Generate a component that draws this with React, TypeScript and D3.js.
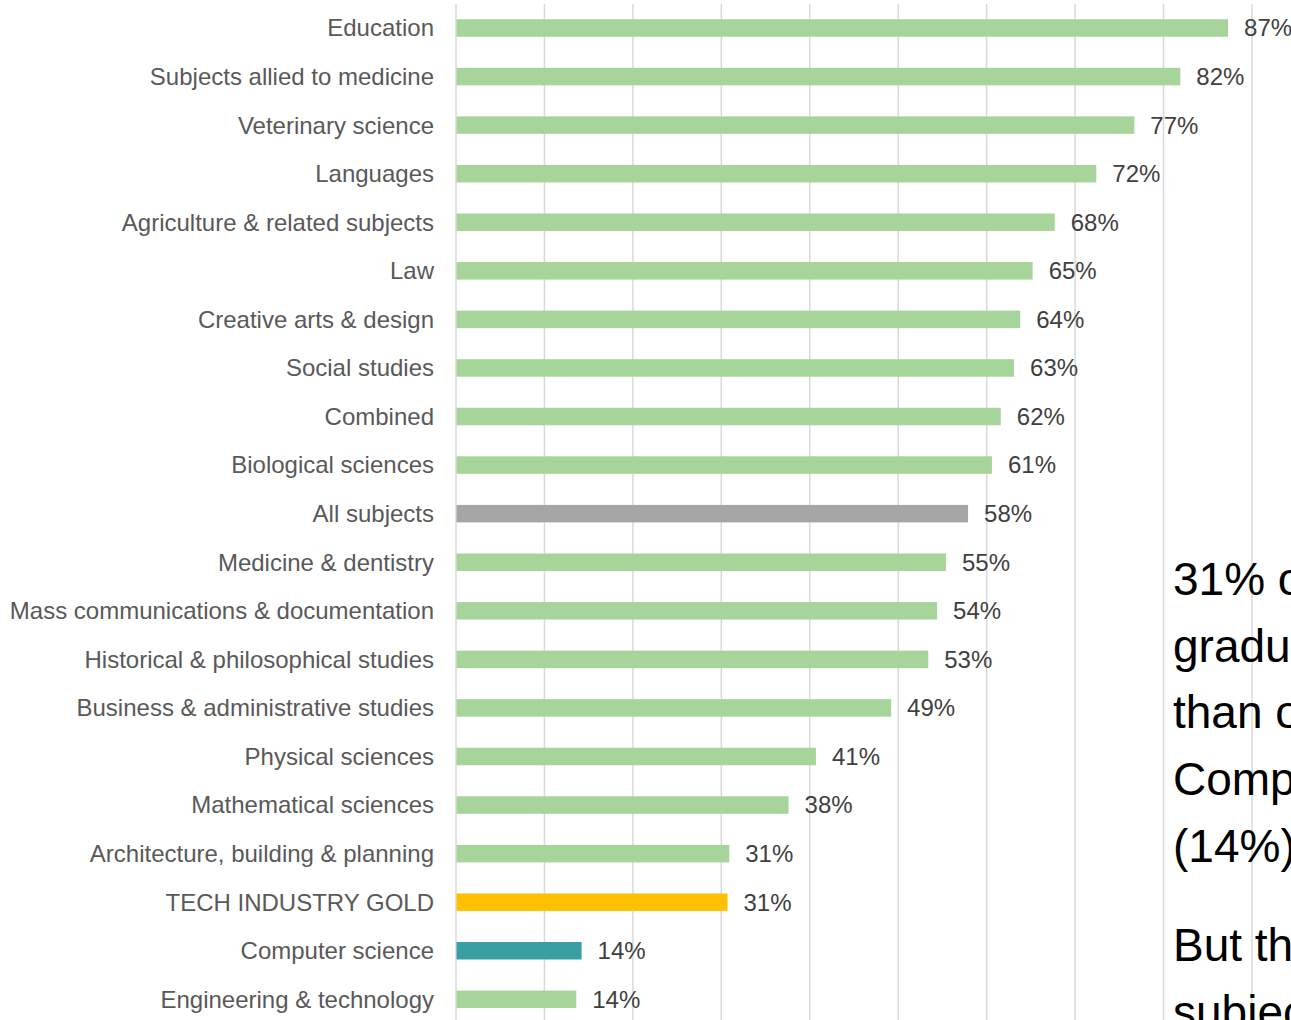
import React, { useEffect, useRef } from 'react';
import * as d3 from 'd3';

// share of graduates who are female, by subject (%)
const subjects = [
  'Education',
  'Subjects allied to medicine',
  'Veterinary science',
  'Languages',
  'Agriculture & related subjects',
  'Law',
  'Creative arts & design',
  'Social studies',
  'Combined',
  'Biological sciences',
  'All subjects',
  'Medicine & dentistry',
  'Mass communications & documentation',
  'Historical & philosophical studies',
  'Business & administrative studies',
  'Physical sciences',
  'Mathematical sciences',
  'Architecture, building & planning',
  'TECH INDUSTRY GOLD',
  'Computer science',
  'Engineering & technology',
];

const femaleShare = [
  87.3, 81.9, 76.7, 72.4, 67.7, 65.2, 63.8, 63.1, 61.6, 60.6, 57.9, 55.4, 54.4,
  53.4, 49.2, 40.7, 37.6, 30.9, 30.7, 14.2, 13.6,
];

const gridTicks = [0, 10, 20, 30, 40, 50, 60, 70, 80, 90, 100];

const noteLines = [
  '31% of TECH INDUSTRY GOLD',
  'graduates are women',
  'than on',
  'Computer science',
  '(14%)',
];
const noteLines2 = ['But this', 'subjects'];

interface Row {
  name: string;
  value: number;
}

const W = 1291;
const H = 1020;

const App = () => {
  const ref = useRef<SVGSVGElement>(null);

  useEffect(() => {
    const svg = d3.select(ref.current);
    svg.selectAll('*').remove();

    const data: Row[] = subjects.map((name, i) => ({ name, value: femaleShare[i] }));

    const x = d3.scaleLinear().domain([0, 100]).range([456, 1340.4]);
    const y = d3
      .scaleBand<string>()
      .domain(subjects)
      .range([3.7, 1023.6])
      .paddingInner(0.64)
      .paddingOuter(0.32);

    const font = '"Liberation Sans", Arial, sans-serif';

    // vertical gridlines
    svg
      .append('g')
      .selectAll('line')
      .data(gridTicks)
      .join('line')
      .attr('x1', (d) => x(d))
      .attr('x2', (d) => x(d))
      .attr('y1', 4)
      .attr('y2', H)
      .attr('stroke', '#d9d9d9')
      .attr('stroke-width', 1.5);

    const barColor = (name: string) => {
      if (name === 'All subjects') return '#a5a5a5';
      if (name === 'TECH INDUSTRY GOLD') return '#ffc000';
      if (name === 'Computer science') return '#3a9fa3';
      return '#a7d49a';
    };

    // bars
    svg
      .append('g')
      .selectAll('rect')
      .data(data)
      .join('rect')
      .attr('x', x(0) + 0.5)
      .attr('y', (d) => y(d.name)!)
      .attr('width', (d) => x(d.value) - x(0) - 0.5)
      .attr('height', y.bandwidth())
      .attr('fill', (d) => barColor(d.name));

    // category labels
    svg
      .append('g')
      .selectAll('text')
      .data(data)
      .join('text')
      .attr('x', 434)
      .attr('y', (d) => y(d.name)! + y.bandwidth() / 2)
      .attr('dy', '0.35em')
      .attr('text-anchor', 'end')
      .attr('font-family', font)
      .attr('font-size', 24)
      .attr('fill', '#595959')
      .text((d) => d.name);

    // value labels
    svg
      .append('g')
      .selectAll('text')
      .data(data)
      .join('text')
      .attr('x', (d) => x(d.value) + 16)
      .attr('y', (d) => y(d.name)! + y.bandwidth() / 2)
      .attr('dy', '0.35em')
      .attr('font-family', font)
      .attr('font-size', 24)
      .attr('fill', '#404040')
      .text((d) => `${Math.round(d.value)}%`);

    // side note (clipped by the frame, as in the original)
    const note = svg
      .append('text')
      .attr('font-family', font)
      .attr('font-size', 46)
      .attr('fill', '#000');
    noteLines.forEach((t, i) => {
      note
        .append('tspan')
        .attr('x', 1173)
        .attr('y', 595 + i * 66.7)
        .text(t);
    });
    noteLines2.forEach((t, i) => {
      note
        .append('tspan')
        .attr('x', 1173)
        .attr('y', 961 + i * 66.7)
        .text(t);
    });
  }, []);

  return (
    <svg
      ref={ref}
      width={W}
      height={H}
      style={{ position: 'absolute', left: 0, top: 0, background: '#fff' }}
    />
  );
};

export default App;
